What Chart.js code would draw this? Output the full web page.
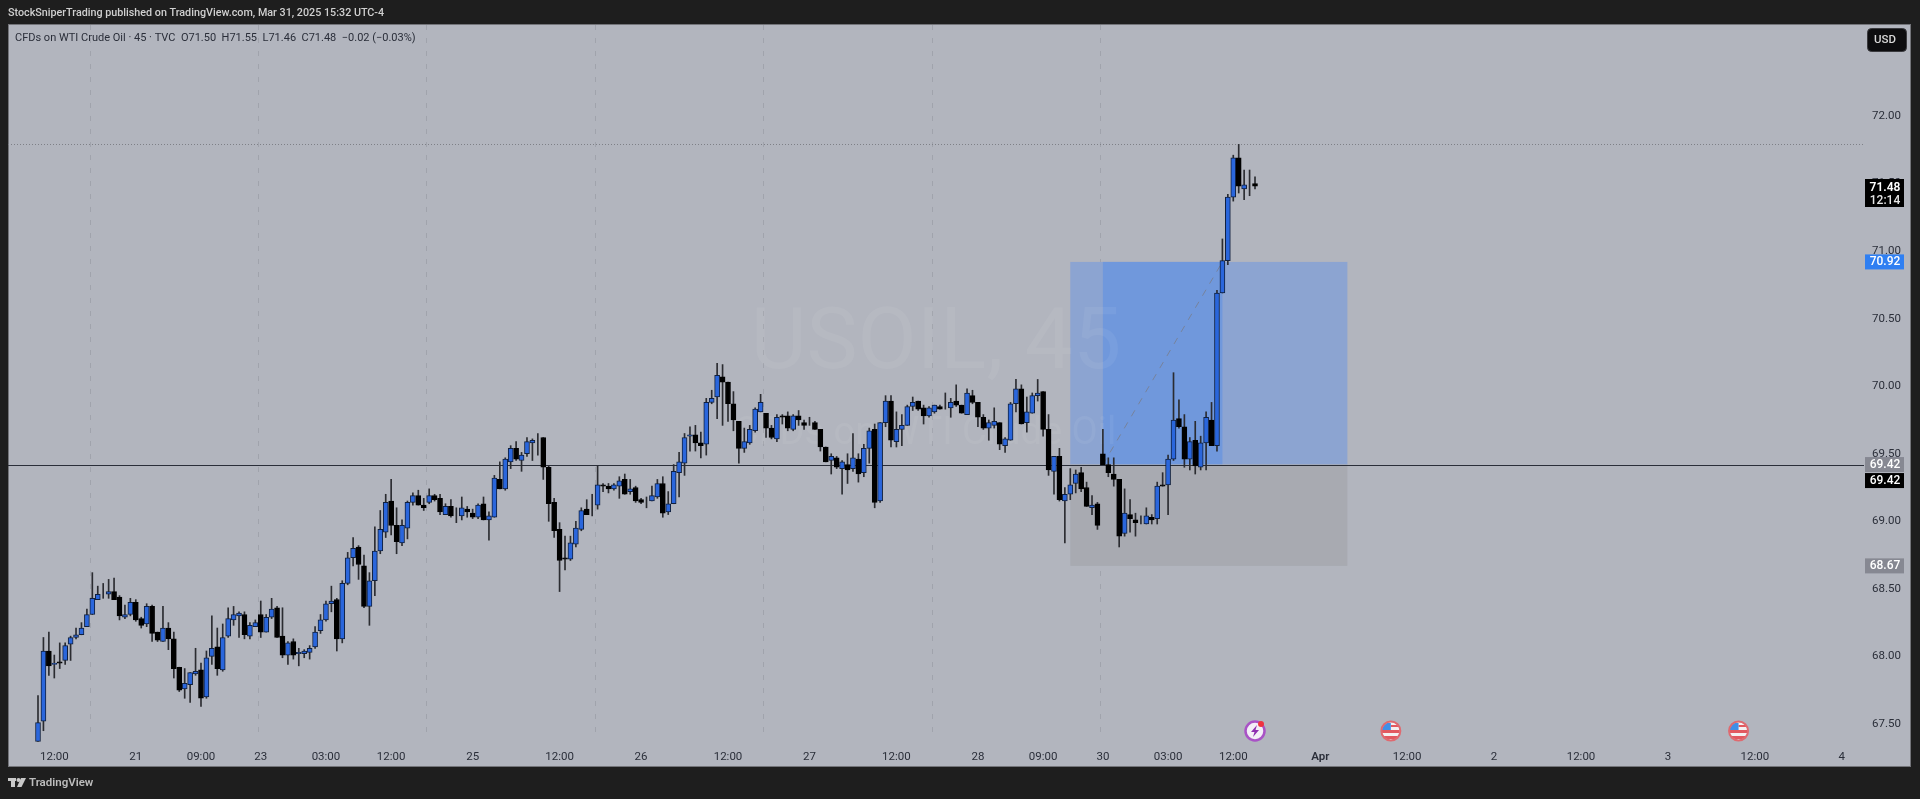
<!DOCTYPE html>
<html>
<head>
<meta charset="utf-8">
<style>html,body{margin:0;padding:0;background:#1e1e1e;overflow:hidden}canvas{display:block}</style>
<script src="https://cdn.jsdelivr.net/npm/chart.js@4"></script>
</head>
<body>
<canvas id="c" width="1920" height="799"></canvas>
<script>
const opens=[
67.37,67.52,68.04,67.94,67.96,67.97,68.09,68.14,68.16,68.22,
68.31,68.42,68.47,68.46,68.48,68.44,68.29,68.31,68.40,68.28,
68.24,68.37,68.18,68.11,68.21,68.13,67.92,67.76,67.79,67.87,
67.90,67.70,68.00,68.07,67.90,68.15,68.27,68.30,68.31,68.15,
68.22,68.31,68.18,68.29,68.36,68.15,68.01,68.11,68.02,68.02,
68.03,68.07,68.19,68.27,68.39,68.42,68.13,68.54,68.73,68.81,
68.67,68.37,68.56,68.78,68.92,69.15,68.97,68.84,68.95,69.14,
69.19,69.12,69.14,69.19,69.17,69.05,69.11,69.03,69.04,69.09,
69.06,69.03,69.13,69.01,69.03,69.31,69.24,69.44,69.54,69.45,
69.50,69.58,69.60,69.62,69.40,69.14,68.94,68.73,68.72,68.83,
68.94,69.09,69.14,69.12,69.27,69.26,69.24,69.26,69.31,69.22,
69.25,69.16,69.14,69.15,69.18,69.28,69.07,69.13,69.36,69.43,
69.63,69.64,69.58,69.57,69.88,69.92,70.07,70.03,69.87,69.74,
69.54,69.58,69.67,69.81,69.80,69.69,69.61,69.78,69.78,69.68,
69.78,69.73,69.74,69.73,69.68,69.55,69.45,69.47,69.39,69.42,
69.39,69.46,69.36,69.54,69.68,69.15,69.73,69.89,69.59,69.68,
69.71,69.85,69.89,69.84,69.78,69.81,69.85,69.84,69.84,69.89,
69.86,69.79,69.93,69.88,69.77,69.69,69.71,69.73,69.56,69.60,
69.87,69.98,69.73,69.80,69.93,69.96,69.68,69.37,69.48,69.15,
69.20,69.28,69.36,69.25,69.10,69.13,69.50,69.42,69.35,69.31,
68.91,69.05,69.01,68.99,68.98,69.03,69.02,69.27,69.27,69.46,
69.76,69.70,69.46,69.60,69.40,69.58,69.75,69.56,70.69,70.93,
71.40,71.69,71.46,71.50,71.50];
const highs=[
67.71,68.14,68.18,68.01,68.10,68.10,68.15,68.21,68.25,68.35,
68.62,68.52,68.54,68.57,68.58,68.45,68.38,68.43,68.42,68.29,
68.39,68.38,68.18,68.37,68.25,68.18,67.92,67.91,67.88,68.06,
67.95,68.04,68.30,68.21,68.24,68.36,68.37,68.33,68.33,68.25,
68.27,68.41,68.31,68.43,68.37,68.36,68.11,68.13,68.06,68.05,
68.08,68.22,68.31,68.41,68.52,68.43,68.56,68.77,68.88,68.82,
68.75,68.62,68.96,69.08,69.20,69.31,69.10,69.01,69.15,69.21,
69.23,69.17,69.24,69.20,69.20,69.13,69.16,69.10,69.18,69.11,
69.09,69.13,69.18,69.07,69.34,69.44,69.47,69.56,69.59,69.51,
69.62,69.61,69.65,69.62,69.41,69.17,68.99,68.89,68.89,69.00,
69.10,69.16,69.20,69.41,69.28,69.28,69.28,69.33,69.35,69.31,
69.26,69.17,69.18,69.26,69.31,69.33,69.22,69.42,69.51,69.65,
69.70,69.71,69.66,69.91,69.97,70.17,70.16,70.03,69.96,69.74,
69.69,69.71,69.84,69.94,69.80,69.71,69.79,69.79,69.81,69.79,
69.82,69.75,69.77,69.74,69.68,69.55,69.50,69.48,69.45,69.50,
69.65,69.50,69.57,69.69,69.72,69.73,69.93,69.93,69.81,69.79,
69.86,69.92,69.89,69.86,69.85,69.86,69.86,69.95,69.91,70.01,
69.86,69.98,69.97,69.88,69.79,69.75,69.84,69.73,69.62,69.88,
70.05,70.01,69.92,69.95,70.05,69.96,69.79,69.48,69.54,69.25,
69.39,69.38,69.40,69.29,69.19,69.14,69.68,69.47,69.47,69.31,
69.24,69.16,69.06,69.04,69.10,69.05,69.29,69.36,69.49,70.10,
69.90,69.79,69.62,69.74,69.63,69.81,69.88,70.71,71.09,71.42,
71.71,71.79,71.60,71.60,71.55];
const lows=[
67.37,67.45,67.86,67.84,67.91,67.94,67.97,68.13,68.16,68.22,
68.31,68.42,68.43,68.43,68.42,68.27,68.28,68.30,68.26,68.21,
68.22,68.11,68.11,68.11,68.05,67.84,67.74,67.69,67.66,67.86,
67.63,67.69,67.94,67.86,67.89,68.14,68.23,68.14,68.13,68.13,
68.22,68.14,68.18,68.28,68.14,67.99,67.94,67.98,67.93,67.99,
67.98,68.06,68.17,68.26,68.33,68.04,68.10,68.53,68.67,68.57,
68.36,68.23,68.45,68.76,68.88,68.90,68.76,68.82,68.87,69.12,
69.12,69.08,69.13,69.15,69.05,69.05,69.03,68.99,69.01,69.03,
69.02,69.02,69.01,68.86,69.03,69.24,69.23,69.39,69.45,69.37,
69.48,69.45,69.49,69.31,69.00,68.88,68.48,68.64,68.71,68.81,
68.93,69.05,69.04,69.09,69.22,69.21,69.23,69.17,69.20,69.20,
69.14,69.13,69.10,69.15,69.17,69.03,69.05,69.13,69.18,69.34,
69.52,69.52,69.47,69.49,69.87,69.76,69.71,69.74,69.67,69.43,
69.51,69.57,69.66,69.81,69.62,69.61,69.59,69.72,69.67,69.67,
69.71,69.68,69.71,69.68,69.52,69.44,69.35,69.39,69.20,69.28,
69.37,69.29,69.33,69.43,69.10,69.14,69.70,69.55,69.55,69.56,
69.71,69.82,69.82,69.72,69.77,69.80,69.83,69.83,69.77,69.85,
69.80,69.79,69.87,69.70,69.68,69.60,69.69,69.53,69.51,69.60,
69.81,69.72,69.66,69.80,69.89,69.63,69.34,69.20,69.15,68.84,
69.16,69.21,69.22,69.11,69.05,68.94,69.42,69.33,69.26,68.81,
68.89,68.92,68.89,68.98,68.98,68.98,68.98,69.26,69.05,69.45,
69.69,69.40,69.38,69.35,69.38,69.38,69.56,69.52,70.69,70.90,
71.37,71.43,71.38,71.41,71.46];
const closes=[
67.51,68.04,67.93,67.95,67.95,68.08,68.14,68.16,68.21,68.31,
68.43,68.46,68.47,68.48,68.42,68.30,68.31,68.40,68.27,68.23,
68.37,68.17,68.12,68.21,68.13,67.91,67.75,67.80,67.88,67.89,
67.69,67.99,68.06,67.91,68.14,68.28,68.31,68.32,68.16,68.23,
68.25,68.18,68.29,68.35,68.14,68.01,68.10,68.01,68.03,68.04,
68.06,68.18,68.27,68.39,68.41,68.13,68.54,68.73,68.80,68.68,
68.37,68.56,68.78,68.94,69.14,68.97,68.85,68.97,69.14,69.19,
69.12,69.10,69.19,69.16,69.07,69.11,69.04,69.03,69.10,69.07,
69.03,69.12,69.01,69.04,69.32,69.24,69.46,69.54,69.46,69.49,
69.59,69.60,69.60,69.40,69.13,68.93,68.71,68.72,68.84,68.95,
69.08,69.05,69.14,69.27,69.26,69.24,69.27,69.30,69.20,69.24,
69.15,69.14,69.14,69.19,69.28,69.06,69.13,69.37,69.44,69.62,
69.64,69.58,69.56,69.88,69.91,70.08,70.03,69.87,69.75,69.54,
69.59,69.68,69.83,69.88,69.69,69.62,69.77,69.77,69.69,69.78,
69.75,69.71,69.74,69.68,69.55,69.44,69.48,69.40,69.44,69.38,
69.47,69.35,69.54,69.67,69.14,69.73,69.89,69.60,69.68,69.71,
69.85,69.88,69.83,69.78,69.84,69.86,69.83,69.84,69.88,69.86,
69.80,69.95,69.88,69.77,69.69,69.73,69.74,69.57,69.61,69.87,
69.98,69.72,69.81,69.93,69.95,69.68,69.38,69.48,69.16,69.20,
69.27,69.35,69.24,69.11,69.12,68.97,69.42,69.36,69.31,68.89,
69.06,69.02,68.99,68.99,69.04,69.01,69.26,69.26,69.46,69.75,
69.70,69.46,69.59,69.41,69.58,69.77,69.56,70.69,70.93,71.40,
71.69,71.48,71.49,71.50,71.48];

const timeTickBars=[3,18,30,41,53,65,80,96,111,127,142,158,173,185,196,208,220,236,252,268,284,300,316,332];
const timeTickLabels=['12:00','21','09:00','23','03:00','12:00','25','12:00','26','12:00','27','12:00','28','09:00','30','03:00','12:00','Apr','12:00','2','12:00','3','12:00','4'];
const priceTicks=[67.5,68,68.5,69,69.5,70,70.5,71,71.5,72];
const sessionBars=[9.5,40.5,71.5,102.5,133.5,164.5,195.5];
const eventBars=[224,249,313];
const eventKinds=['bolt','flag','flag'];

const headerLine='StockSniperTrading published on TradingView.com, Mar 31, 2025 15:32 UTC-4';
const legendLine='CFDs on WTI Crude Oil · 45 · TVC  O71.50  H71.55  L71.46  C71.48  −0.02 (−0.03%)';
const watermarkMain='USOIL, 45';
const watermarkSub='CFDs on WTI Crude Oil';

const lastPrice=71.48, countdown='12:14';
const horizontalLevel=69.42, highLevel=71.79;
const targetPrice=70.92, entryPrice=69.42, stopPrice=68.67;
const toolStartBar=190, toolEndBar=241, tradeStartBar=196, tradeEndBar=218;

const xMin=-5.522, xMax=336.09, yMin=67.3664, yMax=72.6736;
const FONT='Roboto, "Liberation Sans", sans-serif';
const BG='#b2b5be', UP='#2a66dc', DOWN='#000000', WICK='#2b2c31';

const bodies=opens.map((o,i)=>({x:i,y:[o,closes[i]]}));
const wicks=lows.map((l,i)=>({x:i,y:[l,highs[i]]}));
const bodyColors=opens.map((o,i)=>closes[i]>=o?UP:DOWN);

function tag(ctx,text,y,bg,fg){
  ctx.fillStyle=bg;ctx.fillRect(1865,y-7.5,39,15);
  ctx.fillStyle=fg;ctx.font='500 12px '+FONT;ctx.textAlign='center';ctx.textBaseline='middle';
  ctx.fillText(text,1885,y+.5);
}
function bolt(ctx,x,y){
  ctx.beginPath();ctx.arc(x,y,9.5,0,Math.PI*2);ctx.fillStyle='#f3eef7';ctx.fill();
  ctx.lineWidth=2.5;ctx.strokeStyle='#a952c6';ctx.stroke();
  ctx.fillStyle='#8e2fb0';ctx.beginPath();
  ctx.moveTo(x+2,y-6);ctx.lineTo(x-4,y+1);ctx.lineTo(x-.5,y+1);ctx.lineTo(x-2,y+6);ctx.lineTo(x+4,y-1);ctx.lineTo(x+.5,y-1);ctx.closePath();ctx.fill();
  ctx.beginPath();ctx.arc(x+6,y-7,3,0,Math.PI*2);ctx.fillStyle='#ef3340';ctx.fill();
}
function flag(ctx,x,y){
  ctx.save();
  ctx.beginPath();ctx.arc(x,y,9,0,Math.PI*2);ctx.fillStyle='#f4f1f1';ctx.fill();ctx.clip();
  ctx.fillStyle='#e2595f';ctx.fillRect(x-9,y-1,18,3);ctx.fillRect(x-9,y+5,18,3);
  ctx.fillStyle='#e2595f';ctx.fillRect(x,y-6,9,2);
  ctx.fillStyle='#3f8fe8';ctx.fillRect(x-9,y-8,9,7);
  ctx.restore();
  ctx.beginPath();ctx.arc(x,y,9.5,0,Math.PI*2);ctx.lineWidth=2;ctx.strokeStyle='#df6a70';ctx.stroke();
}

const backdrop={
  id:'backdrop',
  beforeDraw(chart){
    const {ctx}=chart;
    ctx.save();
    ctx.fillStyle=BG;ctx.fillRect(8,24,1903,743);
    ctx.strokeStyle='#737479';ctx.lineWidth=1;ctx.strokeRect(8.5,24.5,1902,742);
    ctx.restore();
  },
  beforeDatasetsDraw(chart){
    const {ctx,scales:{x,y}}=chart;
    ctx.save();
    // session separators
    ctx.setLineDash([5,8]);ctx.strokeStyle='#a0a3ac';ctx.lineWidth=1;
    sessionBars.forEach(b=>{const p=Math.round(x.getPixelForValue(b))+.5;ctx.beginPath();ctx.moveTo(p,25);ctx.lineTo(p,738);ctx.stroke();});
    ctx.setLineDash([]);
    // position tool
    const tl=x.getPixelForValue(toolStartBar),tr=x.getPixelForValue(toolEndBar);
    const ta=x.getPixelForValue(tradeStartBar),tb=x.getPixelForValue(tradeEndBar);
    const yT=y.getPixelForValue(targetPrice),yE=y.getPixelForValue(entryPrice),yS=y.getPixelForValue(stopPrice);
    ctx.fillStyle='#8ca4d1';ctx.fillRect(tl,yT,tr-tl,yE-yT);
    ctx.fillStyle='#7098dc';ctx.fillRect(ta,yT,tb-ta,yE-yT);
    ctx.fillStyle='#a8aab1';ctx.fillRect(tl,yE,tr-tl,yS-yE);
    ctx.setLineDash([7,7]);ctx.strokeStyle='rgba(120,123,134,0.75)';ctx.beginPath();ctx.moveTo(ta,yE);ctx.lineTo(tb,yT);ctx.stroke();ctx.setLineDash([]);
    // watermark
    ctx.textAlign='center';ctx.textBaseline='middle';ctx.fillStyle='rgba(255,255,255,0.06)';
    ctx.font='86px '+FONT;ctx.fillText(watermarkMain,936,346);
    ctx.font='38px '+FONT;ctx.fillText(watermarkSub,925,434);
    // level lines
    const h=Math.round(y.getPixelForValue(highLevel))+.5;
    ctx.setLineDash([1,2]);ctx.strokeStyle='#7e8087';ctx.beginPath();ctx.moveTo(8,h);ctx.lineTo(1864,h);ctx.stroke();ctx.setLineDash([]);
    const l=Math.round(y.getPixelForValue(horizontalLevel))+.5;
    ctx.strokeStyle='#2a2e39';ctx.lineWidth=1.2;ctx.beginPath();ctx.moveTo(8,l);ctx.lineTo(1864,l);ctx.stroke();
    ctx.restore();
  },
  afterDraw(chart){
    const {ctx,scales:{x,y}}=chart;
    ctx.save();
    ctx.textBaseline='middle';ctx.textAlign='left';
    ctx.fillStyle='#d0d0d0';ctx.font='500 10.75px '+FONT;ctx.fillText(headerLine,8,13);
    ctx.fillStyle='#2a2e39';ctx.font='11px '+FONT;ctx.fillText(legendLine,15,38);
    // USD
    ctx.fillStyle='#0d0d0f';ctx.strokeStyle='#3a3a3e';ctx.lineWidth=1;
    ctx.beginPath();ctx.roundRect(1867.5,28.5,39,23,4);ctx.fill();ctx.stroke();
    ctx.fillStyle='#d8d8d8';ctx.textAlign='center';ctx.font='500 11.5px '+FONT;ctx.fillText('USD',1885,40.5);
    // price tags
    ctx.fillStyle='#000';ctx.fillRect(1865,179,39,28);
    ctx.fillStyle='#fff';ctx.font='600 12px '+FONT;ctx.fillText(lastPrice.toFixed(2),1885,187.5);
    ctx.fillStyle='#e6e6e6';ctx.font='500 12px '+FONT;ctx.fillText(countdown,1885,200.5);
    tag(ctx,targetPrice.toFixed(2),y.getPixelForValue(targetPrice),'#2f7ff2','#ffffff');
    tag(ctx,entryPrice.toFixed(2),y.getPixelForValue(entryPrice),'#868892','#ffffff');
    tag(ctx,horizontalLevel.toFixed(2),y.getPixelForValue(horizontalLevel)+16,'#000000','#ffffff');
    tag(ctx,stopPrice.toFixed(2),y.getPixelForValue(stopPrice),'#868892','#ffffff');
    // events
    eventBars.forEach((b,i)=>{const p=x.getPixelForValue(b);(eventKinds[i]==='bolt'?bolt:flag)(ctx,p,731);});
    // logo
    ctx.fillStyle='#c9c9c9';
    ctx.fillRect(8,778,8,3);ctx.fillRect(11,778,4,9);
    ctx.beginPath();ctx.arc(18.5,780,2,0,7);ctx.fill();
    ctx.beginPath();ctx.moveTo(21,778);ctx.lineTo(26,778);ctx.lineTo(21.5,787);ctx.lineTo(17,787);ctx.closePath();ctx.fill();
    ctx.textAlign='left';ctx.font='600 11.5px '+FONT;ctx.fillStyle='#bdbdbd';ctx.fillText('TradingView',29,783);
    ctx.restore();
  }
};

new Chart(document.getElementById('c'),{
  type:'bar',
  data:{datasets:[
    {label:'Body',data:bodies,backgroundColor:bodyColors,borderColor:opens.map((o,i)=>closes[i]>=o?'#10203f':'#000'),borderWidth:1,borderSkipped:false,barThickness:5,grouped:false,order:1},
    {label:'Wick',data:wicks,backgroundColor:WICK,borderWidth:0,barThickness:1,grouped:false,order:2}
  ]},
  options:{
    responsive:false,animation:false,devicePixelRatio:1,
    layout:{padding:{left:8,top:25,right:9,bottom:32}},
    plugins:{legend:{display:false},tooltip:{enabled:false},title:{display:false}},
    scales:{
      x:{type:'linear',min:xMin,max:xMax,offset:false,
        grid:{display:false},border:{display:false},
        afterBuildTicks(a){a.ticks=timeTickBars.map(v=>({value:v}));},
        afterFit(a){a.height=25;},
        ticks:{autoSkip:false,maxRotation:0,minRotation:0,padding:0,color:'#2a2e39',
          font(c){return {family:FONT,size:11.5,weight:c.tick&&c.tick.value===236?'600':'400'};},
          callback(v){return timeTickLabels[timeTickBars.indexOf(v)]??'';}}
      },
      y:{type:'linear',position:'right',min:yMin,max:yMax,
        grid:{display:false,drawTicks:false},border:{display:false},
        afterBuildTicks(a){a.ticks=priceTicks.map(v=>({value:v}));},
        afterFit(a){a.width=47;},
        ticks:{padding:8,align:'center',color:'#2a2e39',font:{family:FONT,size:11.5},callback(v){return v.toFixed(2);}}
      }
    }
  },
  plugins:[backdrop]
});
</script>
</body>
</html>
